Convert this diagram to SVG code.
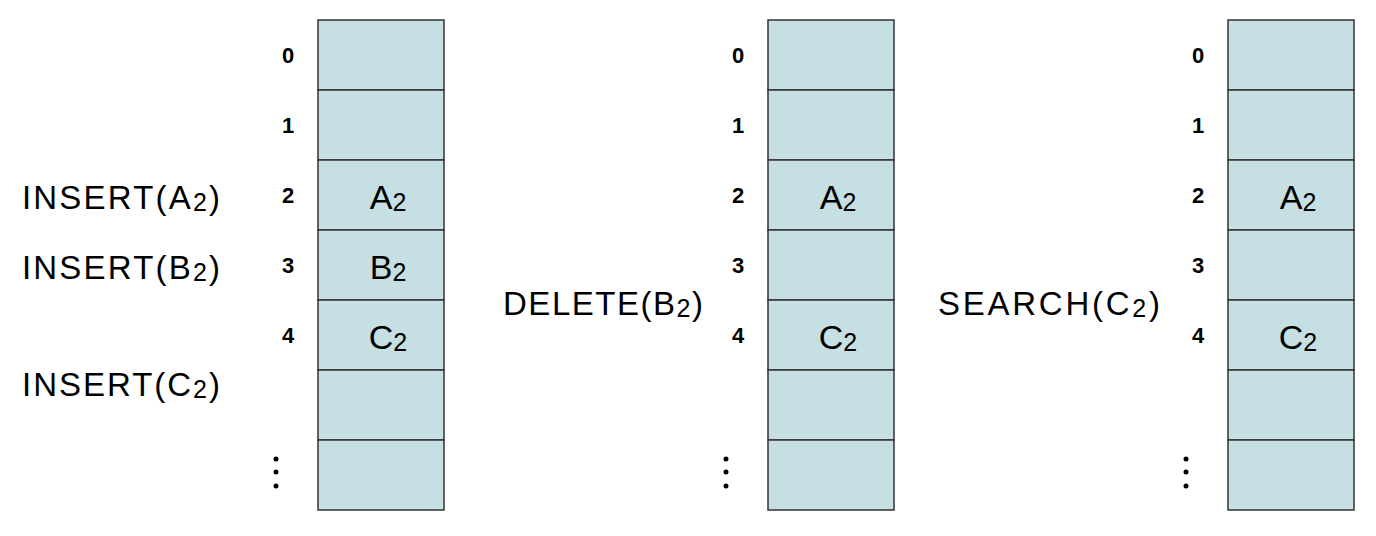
<svg xmlns="http://www.w3.org/2000/svg" width="1376" height="536" viewBox="0 0 1376 536">
<style>
.c{fill:#c5dfe2;stroke:#333;stroke-width:1.5}
.i{font:bold 22px "Liberation Sans",Arial,sans-serif;text-anchor:middle}
.v{font:34px "Liberation Sans",Arial,sans-serif;text-anchor:middle}
.o{font:33px "Liberation Sans",Arial,sans-serif}
.s{font-size:25px}
</style>
<defs>
<g id="tbl">
<rect class="c" x="0" y="0" width="126" height="70"/>
<rect class="c" x="0" y="70" width="126" height="70"/>
<rect class="c" x="0" y="140" width="126" height="70"/>
<rect class="c" x="0" y="210" width="126" height="70"/>
<rect class="c" x="0" y="280" width="126" height="70"/>
<rect class="c" x="0" y="350" width="126" height="70"/>
<rect class="c" x="0" y="420" width="126" height="70"/>
</g>
<g id="idx">
<text class="i" x="0" y="63">0</text>
<text class="i" x="0" y="133">1</text>
<text class="i" x="0" y="203">2</text>
<text class="i" x="0" y="273">3</text>
<text class="i" x="0" y="343">4</text>
<circle cx="-12" cy="459" r="2.5"/><circle cx="-12" cy="472" r="2.5"/><circle cx="-12" cy="486" r="2.5"/>
</g>
</defs>
<g id="ops1">
<text class="o" x="22" y="209" textLength="198">INSERT(A<tspan class="s" dy="2">2</tspan><tspan dy="-2">)</tspan></text>
<text class="o" x="22" y="279" textLength="198">INSERT(B<tspan class="s" dy="2">2</tspan><tspan dy="-2">)</tspan></text>
<text class="o" x="22" y="396" textLength="198">INSERT(C<tspan class="s" dy="2">2</tspan><tspan dy="-2">)</tspan></text>
</g>
<g id="table1">
<use href="#tbl" x="318" y="20"/><use href="#idx" x="288" y="0"/>
<text class="v" x="388" y="209">A<tspan class="s" dy="2">2</tspan></text>
<text class="v" x="388" y="279">B<tspan class="s" dy="2">2</tspan></text>
<text class="v" x="388" y="349">C<tspan class="s" dy="2">2</tspan></text>
</g>
<g id="op2"><text class="o" x="503" y="315" textLength="200">DELETE(B<tspan class="s" dy="2">2</tspan><tspan dy="-2">)</tspan></text></g>
<g id="table2">
<use href="#tbl" x="768" y="20"/><use href="#idx" x="738" y="0"/>
<text class="v" x="838" y="209">A<tspan class="s" dy="2">2</tspan></text>
<text class="v" x="838" y="349">C<tspan class="s" dy="2">2</tspan></text>
</g>
<g id="op3"><text class="o" x="938" y="315" textLength="222">SEARCH(C<tspan class="s" dy="2">2</tspan><tspan dy="-2">)</tspan></text></g>
<g id="table3">
<use href="#tbl" x="1228" y="20"/><use href="#idx" x="1198" y="0"/>
<text class="v" x="1298" y="209">A<tspan class="s" dy="2">2</tspan></text>
<text class="v" x="1298" y="349">C<tspan class="s" dy="2">2</tspan></text>
</g>
<g id="connectors"/>
</svg>
